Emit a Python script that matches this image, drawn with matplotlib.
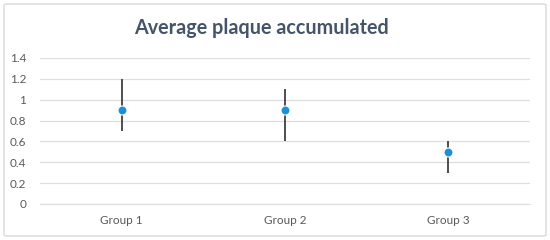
import matplotlib.pyplot as plt
from matplotlib.patches import FancyBboxPatch

# data
groups = ["Group 1", "Group 2", "Group 3"]
averages = [0.9, 0.9, 0.5]
highs = [1.2, 1.1, 0.6]
lows = [0.7, 0.6, 0.3]

plt.rcParams['font.family'] = ['Lato', 'DejaVu Sans']

fig = plt.figure(figsize=(5.5, 2.4), dpi=100)
ax = fig.add_axes([40 / 550, 36 / 240, 490 / 550, 146 / 240])

# outer border like the Excel chart frame
frame = FancyBboxPatch((4 / 550, 4 / 240), 542 / 550, 232 / 240,
                       boxstyle="round,pad=0,rounding_size=0.005",
                       transform=fig.transFigure, fill=False,
                       edgecolor="#D9D9D9", linewidth=1.0)
fig.patches.append(frame)

x = list(range(len(groups)))
ax.vlines(x, lows, highs, color="#404040", linewidth=1.3, zorder=3)
ax.plot(x, averages, linestyle="none", marker="o", markersize=6.5,
        markerfacecolor="#1A8FDB", markeredgecolor="white",
        markeredgewidth=0.8, zorder=4)

ax.set_xlim(-0.5, 2.5)
ax.set_ylim(0, 1.4)
ax.set_yticks([0, 0.2, 0.4, 0.6, 0.8, 1.0, 1.2, 1.4])
ax.set_yticklabels(["0", "0.2", "0.4", "0.6", "0.8", "1", "1.2", "1.4"])
ax.set_xticks(x)
ax.set_xticklabels(groups)
ax.grid(axis="y", color="#DEDEDE", linewidth=0.9)
ax.set_axisbelow(True)
for s in ["top", "right", "left"]:
    ax.spines[s].set_visible(False)
ax.spines["bottom"].set_color("#DEDEDE")
ax.tick_params(length=0, labelsize=8.5, colors="#595959", pad=8)
ax.tick_params(axis="y", pad=10)

fig.text(261 / 550, 1 - 28 / 240, "Average plaque accumulated", ha="center",
         va="center", fontsize=14.2, fontweight="bold", color="#44546A")

fig.savefig("out.png", dpi=100)
